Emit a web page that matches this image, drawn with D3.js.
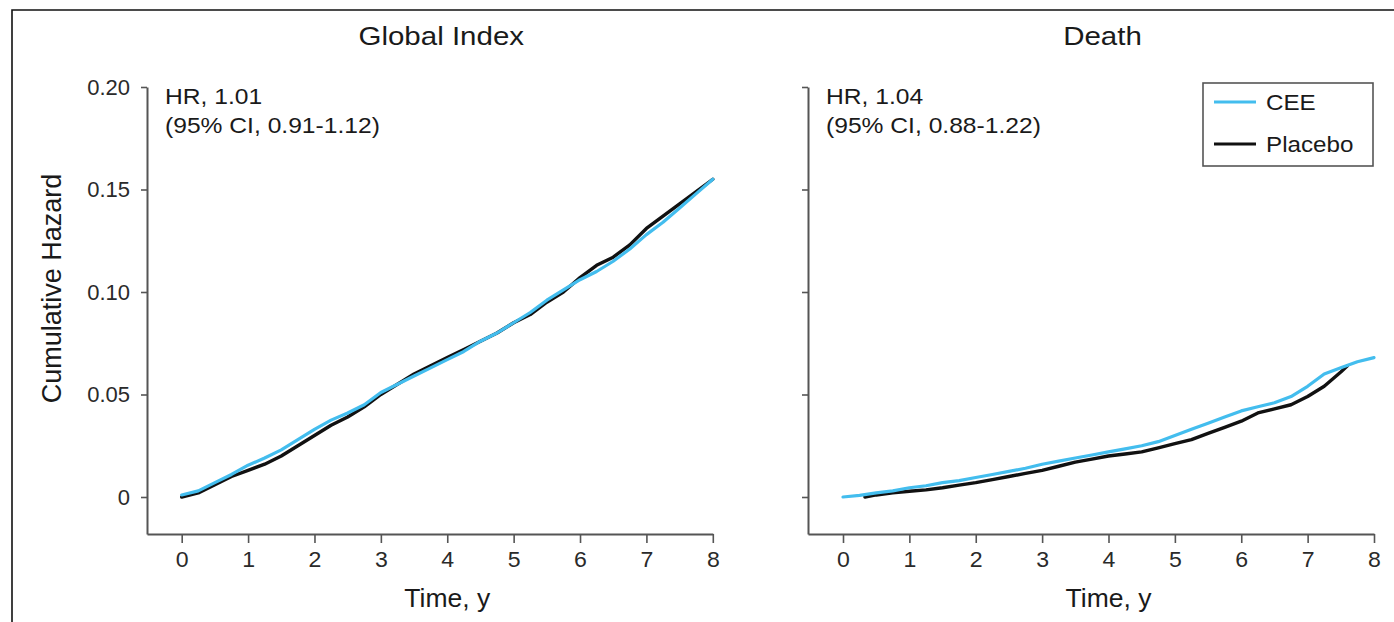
<!DOCTYPE html>
<html>
<head>
<meta charset="utf-8">
<script src="https://cdn.jsdelivr.net/npm/d3@7"></script>
<style>
  html, body { margin: 0; padding: 0; background: #fff; }
  svg { display: block; font-family: "Liberation Sans", Arial, Helvetica, sans-serif; }
</style>
</head>
<body>
<svg id="chart" width="1394" height="622"></svg>
<script>
// ---------------- DATA ----------------
const panelTitles = ["Global Index", "Death"];
const hrLines = [
  ["HR, 1.01", "(95% CI, 0.91-1.12)"],
  ["HR, 1.04", "(95% CI, 0.88-1.22)"]
];
const seriesNames = ["CEE", "Placebo"];
const xTicks = [0, 1, 2, 3, 4, 5, 6, 7, 8];
const yTicks = [0, 0.05, 0.10, 0.15, 0.20];
const yTickLabels = ["0", "0.05", "0.10", "0.15", "0.20"];

// time points (years)
const timeGrid = [0, 0.25, 0.5, 0.75, 1, 1.25, 1.5, 1.75, 2, 2.25, 2.5, 2.75, 3, 3.25, 3.5, 3.75,
  4, 4.25, 4.5, 4.75, 5, 5.25, 5.5, 5.75, 6, 6.25, 6.5, 6.75, 7, 7.25, 7.5, 7.75, 8];

// Global Index cumulative hazard
const globalCEE = [0.001, 0.003, 0.007, 0.011, 0.0155, 0.019, 0.023, 0.028, 0.033, 0.0375, 0.041, 0.045,
  0.051, 0.055, 0.059, 0.063, 0.067, 0.071, 0.076, 0.080, 0.085, 0.090, 0.096, 0.101,
  0.106, 0.110, 0.115, 0.121, 0.128, 0.134, 0.141, 0.148, 0.155];
const globalPlacebo = [0.000, 0.002, 0.006, 0.010, 0.013, 0.016, 0.020, 0.025, 0.030, 0.035, 0.039, 0.044,
  0.050, 0.055, 0.060, 0.064, 0.068, 0.072, 0.076, 0.080, 0.085, 0.089, 0.095, 0.100,
  0.107, 0.113, 0.117, 0.123, 0.131, 0.137, 0.143, 0.149, 0.155];

// Death cumulative hazard
const deathCEE = [0.000, 0.0008, 0.002, 0.003, 0.0045, 0.0055, 0.007, 0.008, 0.0095, 0.011, 0.0125, 0.014,
  0.016, 0.0175, 0.019, 0.0205, 0.022, 0.0235, 0.025, 0.027, 0.030, 0.033, 0.036, 0.039,
  0.042, 0.044, 0.046, 0.049, 0.054, 0.060, 0.063, 0.066, 0.068];
const deathPlaceboTime = [0.33, 0.5, 0.75, 1, 1.25, 1.5, 1.75, 2, 2.25, 2.5, 2.75, 3, 3.25, 3.5, 3.75,
  4, 4.25, 4.5, 4.75, 5, 5.25, 5.5, 5.75, 6, 6.25, 6.5, 6.75, 7, 7.25, 7.5, 7.6];
const deathPlacebo = [0.000, 0.001, 0.002, 0.0028, 0.0035, 0.0045, 0.0058, 0.007, 0.0085, 0.010, 0.0115,
  0.013, 0.015, 0.017, 0.0185, 0.020, 0.021, 0.022, 0.024, 0.026, 0.028, 0.031, 0.034,
  0.037, 0.041, 0.043, 0.045, 0.049, 0.054, 0.061, 0.064];

// ---------------- DRAW ----------------
const svg = d3.select("#chart");
const colors = { CEE: "#43bdee", Placebo: "#111111" };

// outer frame (extends past right/bottom edges)
svg.append("path").attr("d", "M12,622 L12,10 L1394,10")
  .attr("fill", "none").attr("stroke", "#111").attr("stroke-width", 1.6);

const yTop = 87, yZero = 497, yBottom = 534;
const panels = [
  { axisX: 147, x0: 181.7, x8: 712.8, title: panelTitles[0], hr: hrLines[0], showYLabels: true,
    series: [
      { name: "Placebo", t: timeGrid, v: globalPlacebo },
      { name: "CEE", t: timeGrid, v: globalCEE }
    ] },
  { axisX: 808, x0: 843, x8: 1374, title: panelTitles[1], hr: hrLines[1], showYLabels: false,
    series: [
      { name: "Placebo", t: deathPlaceboTime, v: deathPlacebo },
      { name: "CEE", t: timeGrid, v: deathCEE }
    ] }
];

const y = d3.scaleLinear().domain([0, 0.20]).range([yZero, yTop]);
const yMin = y.invert(yBottom);
const yAxisScale = d3.scaleLinear().domain([yMin, 0.20]).range([yBottom, yTop]);

function stretchText(g, x, yPos, txt, size, sx, anchor) {
  return g.append("text")
    .attr("transform", `translate(${x},${yPos}) scale(${sx},1)`)
    .attr("text-anchor", anchor || "start")
    .attr("font-size", size)
    .attr("fill", "#1a1a1a")
    .text(txt);
}

panels.forEach((p, i) => {
  const unit = (p.x8 - p.x0) / 8;
  const xMin = -(p.x0 - p.axisX) / unit;
  const x = d3.scaleLinear().domain([xMin, 8]).range([p.axisX, p.x8]);
  const g = svg.append("g");

  // y axis
  const yAxis = d3.axisLeft(yAxisScale).tickValues(yTicks).tickSize(6).tickSizeOuter(0).tickPadding(11)
    .tickFormat((d, k) => p.showYLabels ? yTickLabels[k] : "");
  const ya = g.append("g").attr("transform", `translate(${p.axisX},0)`).call(yAxis);
  // x axis
  const xAxis = d3.axisBottom(x).tickValues(xTicks).tickSize(9).tickSizeOuter(0).tickPadding(8)
    .tickFormat(d3.format("d"));
  const xa = g.append("g").attr("transform", `translate(0,${yBottom})`).call(xAxis);

  [ya, xa].forEach(a => {
    a.select(".domain").attr("stroke", "#555").attr("stroke-width", 2);
    a.selectAll(".tick line").attr("stroke", "#555").attr("stroke-width", 1.6);
    a.selectAll(".tick text").attr("font-size", 22).attr("fill", "#2a2a2a")
      .attr("font-family", "Liberation Sans, Arial, sans-serif");
  });
  xa.selectAll(".tick text").attr("transform", "scale(1.05,1)");

  // title
  stretchText(g, x(4) - 6, 45, p.title, 25, 1.18, "middle");
  // HR annotation
  stretchText(g, p.axisX + 18, 104, p.hr[0], 22, 1.12, "start");
  stretchText(g, p.axisX + 18, 133, p.hr[1], 22, 1.12, "start");
  // x label
  stretchText(g, x(4), 607, "Time, y", 26, 1.02, "middle");

  // curves
  const line = d3.line().x(d => x(d[0])).y(d => y(d[1])).curve(d3.curveLinear);
  p.series.forEach(s => {
    const pts = s.t.map((t, k) => [t, s.v[k]]);
    g.append("path").datum(pts).attr("d", line)
      .attr("fill", "none").attr("stroke", colors[s.name])
      .attr("stroke-width", s.name === "CEE" ? 3.2 : 3.4)
      .attr("stroke-linejoin", "round").attr("stroke-linecap", "round");
  });
});

// y axis label
svg.append("text")
  .attr("transform", `translate(61,${(yTop + yBottom) / 2 - 22}) rotate(-90)`)
  .attr("text-anchor", "middle").attr("font-size", 27).attr("fill", "#1a1a1a")
  .text("Cumulative Hazard");

// legend
const lg = svg.append("g");
lg.append("rect").attr("x", 1203).attr("y", 83).attr("width", 170).attr("height", 83)
  .attr("fill", "#fff").attr("stroke", "#555").attr("stroke-width", 1.6);
seriesNames.forEach((n, k) => {
  const ly = 102 + k * 42;
  lg.append("line").attr("x1", 1214).attr("x2", 1256).attr("y1", ly).attr("y2", ly)
    .attr("stroke", colors[n]).attr("stroke-width", 3);
  stretchText(lg, 1266, ly + 8, n, 22, 1.1, "start");
});
</script>
</body>
</html>
